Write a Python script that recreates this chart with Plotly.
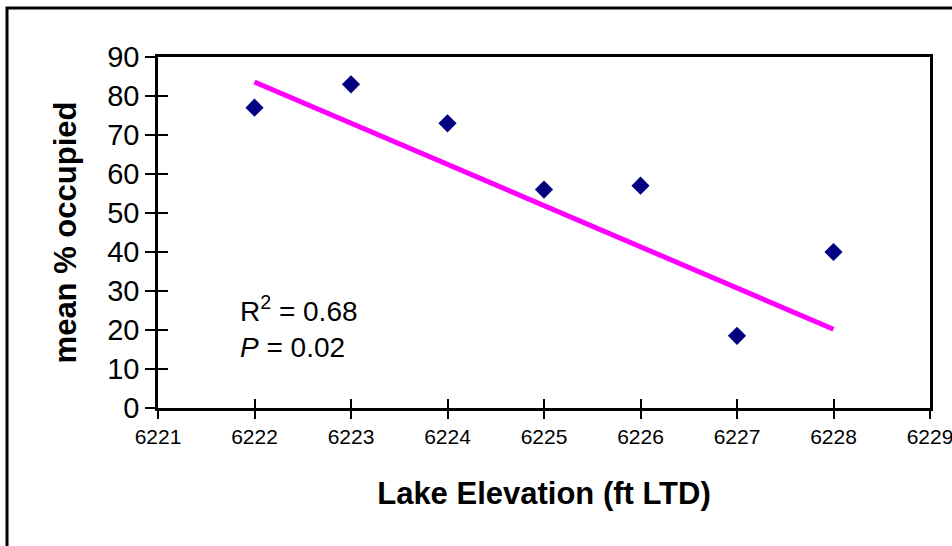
import plotly.graph_objects as go

# Data
elevation = [6222, 6223, 6224, 6225, 6226, 6227, 6228]
occupied = [77, 83, 73, 56, 57, 18.5, 40]
trend_x = [6222, 6228]
trend_y = [83.6, 20.2]
x_ticks = [6221, 6222, 6223, 6224, 6225, 6226, 6227, 6228, 6229]
y_ticks = [0, 10, 20, 30, 40, 50, 60, 70, 80, 90]

FONT = "Liberation Sans, Arial, sans-serif"
W, H = 952, 546
L, R, T, B = 158, 22, 57, 138

fig = go.Figure()
fig.add_trace(go.Scatter(x=trend_x, y=trend_y, mode="lines",
                         line=dict(color="#FF00FF", width=5),
                         showlegend=False, hoverinfo="skip"))
fig.add_trace(go.Scatter(x=elevation, y=occupied, mode="markers",
                         marker=dict(symbol="diamond", size=14, color="#000080",
                                     line=dict(width=0)),
                         showlegend=False))

pw = W - L - R
ph = H - T - B

fig.update_layout(
    template="none",
    width=W, height=H,
    margin=dict(l=L, r=R, t=T, b=B, pad=0, autoexpand=False),
    paper_bgcolor="white", plot_bgcolor="white",
    font=dict(family=FONT, color="black"),
    xaxis=dict(range=[6221, 6229], tickvals=x_ticks, ticktext=[str(v) for v in x_ticks],
               showgrid=False, zeroline=False, showline=True, linecolor="black",
               linewidth=2.5, mirror=True, ticks="outside", ticklen=8, tickwidth=1.5,
               tickcolor="black", tickfont=dict(size=21, family=FONT), automargin=False,
               ticklabeloverflow="allow",
               title=dict(text="<b>Lake Elevation (ft LTD)</b>",
                          font=dict(size=31, family=FONT), standoff=36)),
    yaxis=dict(range=[0, 90], tickvals=y_ticks, showgrid=False, zeroline=False,
               showline=True, linecolor="black", linewidth=2.5, mirror=True,
               ticks="outside", ticklen=10, tickwidth=1.5, tickcolor="black",
               tickfont=dict(size=29, family=FONT), automargin=False,
               ticklabeloverflow="allow",
               title=dict(text="<b>mean % occupied</b>",
                          font=dict(size=31, family=FONT), standoff=22)),
    xaxis2=dict(range=[6221, 6229], tickvals=x_ticks, overlaying="x", side="bottom",
                ticks="inside", ticklen=9, tickwidth=1.5, tickcolor="black", automargin=False,
                showticklabels=False, showgrid=False, zeroline=False, showline=False),
    yaxis2=dict(range=[0, 90], tickvals=y_ticks, overlaying="y", side="left",
                ticks="inside", ticklen=10, tickwidth=1.5, tickcolor="black", automargin=False,
                showticklabels=False, showgrid=False, zeroline=False, showline=False),
)

# invisible trace to activate overlay axes (for crossing tick marks)
fig.add_trace(go.Scatter(x=[6221], y=[0], xaxis="x2", yaxis="y2", mode="markers",
                         marker=dict(opacity=0), showlegend=False, hoverinfo="skip"))

fig.add_annotation(text="R<sup>2</sup> = 0.68<br><i>P</i> = 0.02",
                   xref="x", yref="y", x=6221.83, y=20.7, xanchor="left", yanchor="middle",
                   align="left", showarrow=False,
                   font=dict(size=28, family=FONT, color="black"))

# outer chart border (left & top visible; right/bottom cropped in reference)
fig.add_shape(type="rect", xref="paper", yref="paper",
              x0=(7 - L) / pw, x1=(W + 20 - L) / pw,
              y0=(H - B - (H + 20)) / ph, y1=(H - B - 8) / ph,
              line=dict(color="black", width=3), fillcolor="rgba(0,0,0,0)", layer="below")

fig.write_html("out.html")
